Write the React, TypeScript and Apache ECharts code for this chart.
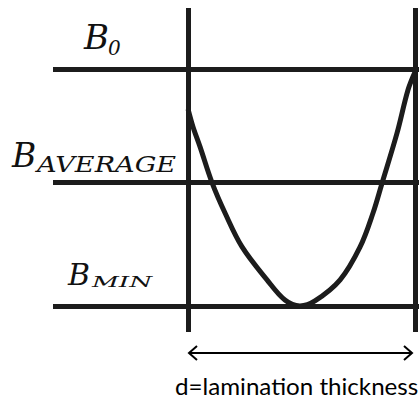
import React, { useEffect, useRef } from "react";
import * as echarts from "echarts";

// Position across the lamination (0 = one face, 1 = other face)
const depth = [0, 0.022, 0.053, 0.106, 0.163, 0.238, 0.348, 0.427, 0.493, 0.559, 0.67, 0.758, 0.815, 0.855, 0.921, 0.969, 1.0];
// Flux density (normalised: B_MIN = 0, B0 = 1)
const fluxB = [0.83, 0.755, 0.671, 0.519, 0.392, 0.249, 0.11, 0.025, 0, 0.021, 0.11, 0.249, 0.392, 0.519, 0.73, 0.911, 0.987];
// Reference levels
const levelNames = ["B0", "BAVERAGE", "BMIN"];
const levelValues = [1.0, 0.515, 0];
// Lamination faces
const faces = [0, 1];
const caption = "d=lamination thickness";

const LINE = "#1c1c1c";
const serif = "DejaVu Serif";

export default function App() {
  const ref = useRef<HTMLDivElement>(null);
  useEffect(() => {
    if (!ref.current) return;
    const chart = echarts.init(ref.current, undefined, { renderer: "svg" });
    const curveData = depth.map((d, i) => [d, fluxB[i]]);
    const bText = (text: string, x: number, y: number, size: number, sx = 1) => ({
      type: "text",
      x,
      y,
      scaleX: sx,
      style: {
        text,
        fontFamily: serif,
        fontStyle: "italic",
        fontSize: size,
        fill: "#111",
        align: "left",
        verticalAlign: "middle",
      },
    });
    chart.setOption({
      animation: false,
      backgroundColor: "#fff",
      grid: { left: 53, right: 0, top: 8, bottom: 68 },
      xAxis: {
        type: "value",
        min: -0.595,
        max: 1.0176,
        show: false,
      },
      yAxis: {
        type: "value",
        min: -0.11,
        max: 1.257,
        show: false,
      },
      series: [
        {
          type: "line",
          data: curveData,
          smooth: 0.35,
          symbol: "none",
          lineStyle: { color: LINE, width: 5 },
          markLine: {
            silent: true,
            symbol: "none",
            label: { show: false },
            lineStyle: { color: LINE, width: 5, type: "solid" },
            data: [
              ...levelValues.map((v, i) => ({ name: levelNames[i], yAxis: v })),
              ...faces.map((f) => ({ xAxis: f })),
            ],
          },
          z: 3,
        },
      ],
      graphic: [
        bText("B", 84, 37, 34),
        bText("0", 108, 48, 20),
        bText("B", 12, 155, 33),
        bText("AVERAGE", 37, 164, 23, 1.18),
        bText("B", 68, 274, 30),
        bText("MIN", 92, 282, 15, 1.75),
        {
          type: "line",
          shape: { x1: 189, y1: 353, x2: 412, y2: 353 },
          style: { stroke: "#000", lineWidth: 2 },
        },
        {
          type: "polyline",
          shape: { points: [[197, 346], [189, 353], [197, 360]] },
          style: { stroke: "#000", lineWidth: 2, fill: null },
        },
        {
          type: "polyline",
          shape: { points: [[404, 346], [412, 353], [404, 360]] },
          style: { stroke: "#000", lineWidth: 2, fill: null },
        },
        {
          type: "text",
          x: 175,
          y: 386,
          scaleX: 1.05,
          style: {
            text: caption,
            fontFamily: "Lato",
            fontSize: 23,
            fill: "#000",
            align: "left",
            verticalAlign: "middle",
          },
        },
      ],
    });
    return () => chart.dispose();
  }, []);
  return (
    <div
      ref={ref}
      style={{ position: "fixed", left: 0, top: 0, width: 419, height: 400 }}
    />
  );
}
